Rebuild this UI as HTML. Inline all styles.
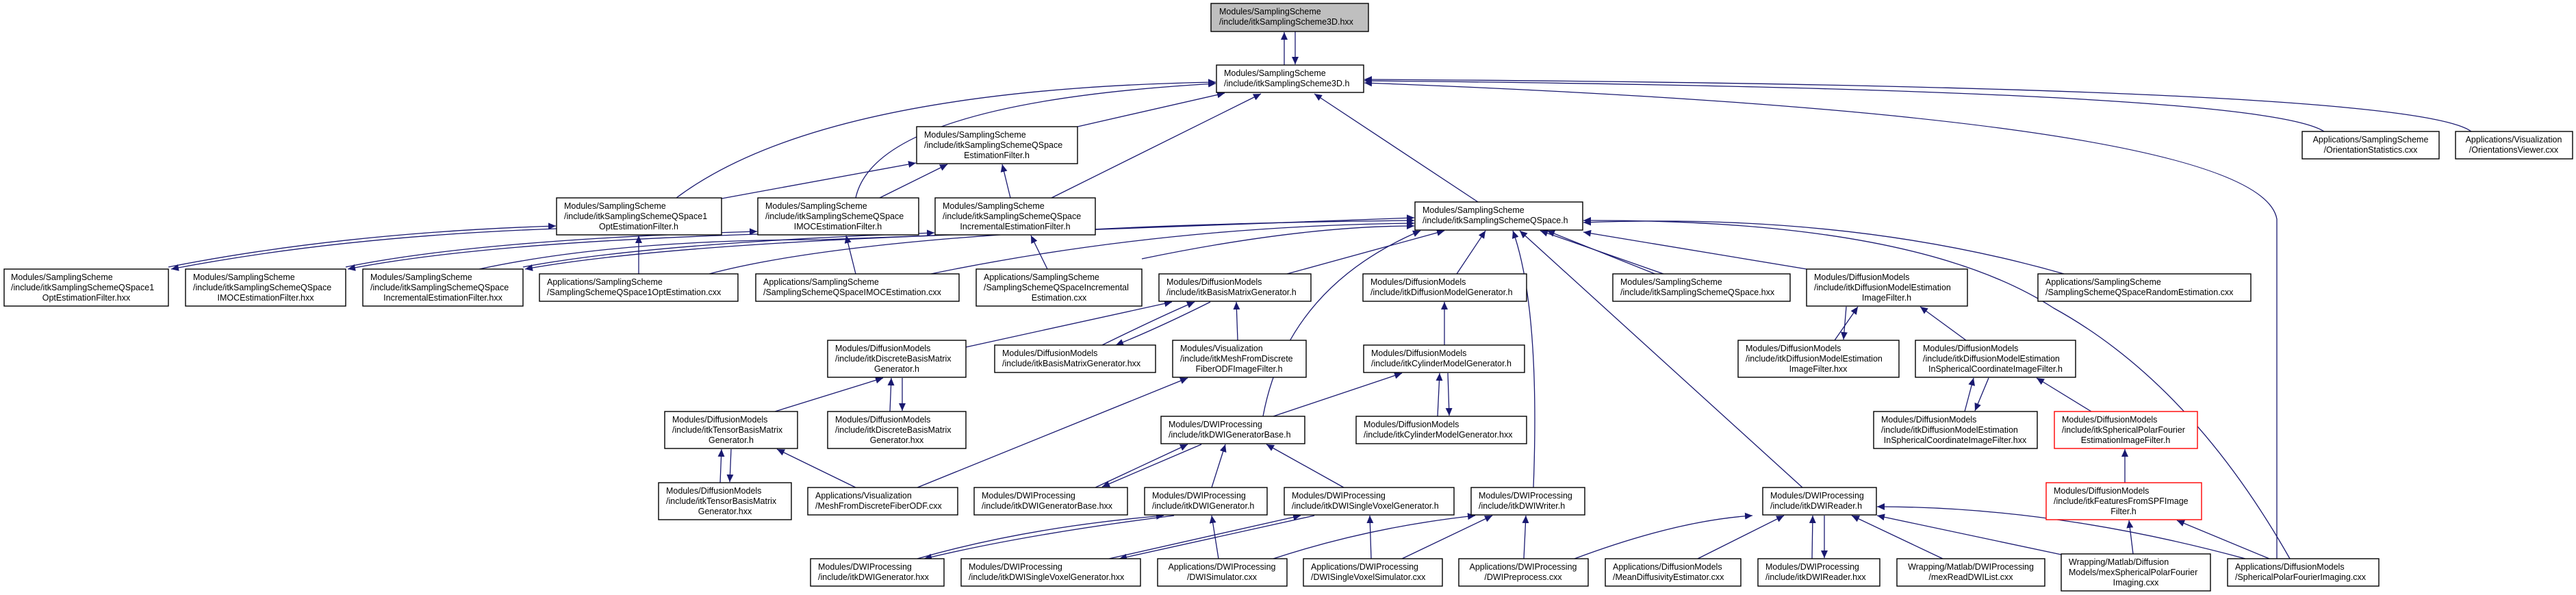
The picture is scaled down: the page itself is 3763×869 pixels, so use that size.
<!DOCTYPE html>
<html><head><meta charset="utf-8"><style>
html,body{margin:0;padding:0;background:#fff;}
svg{display:block;}
text{font-family:"Liberation Sans",Arial,sans-serif;font-size:12.5px;fill:#000;}
.n{fill:#fff;stroke:#000;stroke-width:1.4;}
.g{fill:#bfbfbf;stroke:#000;stroke-width:1.4;}
.r{fill:#fff;stroke:#ff0000;stroke-width:1.4;}
.e{fill:none;stroke:#191970;stroke-width:1.3;}
</style></head><body>
<svg width="3763" height="869" viewBox="0 0 3763 869" xmlns="http://www.w3.org/2000/svg">
<defs><marker id="a" markerUnits="userSpaceOnUse" markerWidth="12" markerHeight="10" refX="11" refY="5" orient="auto"><path d="M0,0 L11,5 L0,10 z" fill="#191970"/></marker></defs>

<!-- edges -->
<g class="e" marker-end="url(#a)">
<path d="M1876,95 L1876,47"/>
<path d="M1892,46 L1892,94"/>
<path d="M1574,185 L1789,136"/>
<path d="M1536,289 L1842,137"/>
<path d="M2159,295 L1920,137"/>
<path d="M988,289 Q1200,130 1776,120"/>
<path d="M1250,289 Q1280,150 1776,122"/>
<path d="M3395,192 Q3300,130 1993,118"/>
<path d="M3610,192 Q3520,125 1993,116"/>
<path d="M3326,816 L3326,320 Q3300,170 1993,121"/>
<path d="M1054,290 L1338,238"/>
<path d="M1285,289 L1384,240"/>
<path d="M1476,289 L1464,240"/>
<path d="M246,390 Q500,340 812,330"/>
<path d="M813,334 Q500,345 250,393"/>
<path d="M933,400 L933,344"/>
<path d="M505,390 Q700,350 1106,338"/>
<path d="M1107,342 Q700,355 508,393"/>
<path d="M1250,400 L1236,344"/>
<path d="M764,390 Q950,355 1365,340"/>
<path d="M1366,344 Q950,360 767,393"/>
<path d="M1530,393 L1506,344"/>
<path d="M700,393 Q900,350 1200,350 Q1700,330 2066,318"/>
<path d="M1036,400 Q1300,330 2066,322"/>
<path d="M1360,400 Q1700,330 2066,326"/>
<path d="M1668,378 Q1900,330 2066,330"/>
<path d="M1880,400 L2110,337"/>
<path d="M2128,400 L2170,337"/>
<path d="M2430,400 L2250,337"/>
<path d="M2425,403 L2260,337"/>
<path d="M1845,608 Q1880,420 2075,337"/>
<path d="M2240,712 Q2250,450 2210,337"/>
<path d="M2633,712 Q2400,500 2220,337"/>
<path d="M2639,393 L2313,339"/>
<path d="M3015,400 Q2700,310 2313,325"/>
<path d="M3345,816 Q3200,560 3000,450 Q2800,320 2313,322"/>
<path d="M1411,507 L1712,441"/>
<path d="M1610,504 Q1700,460 1745,441"/>
<path d="M1768,441 Q1690,480 1630,504"/>
<path d="M1808,497 L1806,441"/>
<path d="M2110,504 L2110,441"/>
<path d="M2100,608 L2103,545"/>
<path d="M2115,545 L2117,607"/>
<path d="M1860,608 L2048,545"/>
<path d="M1340,712 L1735,552"/>
<path d="M1132,601 L1290,552"/>
<path d="M1300,601 L1302,552"/>
<path d="M1318,552 L1318,600"/>
<path d="M1052,705 L1054,656"/>
<path d="M1068,656 L1066,704"/>
<path d="M1250,712 L1135,656"/>
<path d="M1600,712 L1735,649"/>
<path d="M1755,649 L1610,711"/>
<path d="M1770,712 L1790,649"/>
<path d="M1963,712 L1850,649"/>
<path d="M1340,816 Q1500,770 1700,753"/>
<path d="M1715,753 Q1500,780 1350,816"/>
<path d="M1780,816 L1770,753"/>
<path d="M1620,816 L1900,753"/>
<path d="M1920,753 L1635,816"/>
<path d="M2003,816 L2001,753"/>
<path d="M1860,816 Q2000,770 2155,753"/>
<path d="M2048,816 L2180,753"/>
<path d="M2226,816 L2229,753"/>
<path d="M2300,816 Q2450,760 2560,753"/>
<path d="M2480,816 L2606,753"/>
<path d="M2647,816 L2648,753"/>
<path d="M2665,753 L2665,815"/>
<path d="M2838,816 L2705,753"/>
<path d="M3011,810 L2742,753"/>
<path d="M3280,816 Q3000,740 2742,740"/>
<path d="M2680,497 L2714,448"/>
<path d="M2697,448 L2693,496"/>
<path d="M2872,497 L2805,448"/>
<path d="M2870,601 L2883,552"/>
<path d="M2905,552 L2885,600"/>
<path d="M3055,601 L2975,552"/>
<path d="M3104,705 L3104,656"/>
<path d="M3116,809 L3110,760"/>
<path d="M3315,816 L3180,760"/>
</g>

<!-- nodes -->
<rect class="g" x="1769" y="5" width="230" height="41"/>
<text x="1781" y="21">Modules/SamplingScheme</text><text x="1781" y="36">/include/itkSamplingScheme3D.hxx</text>

<rect class="n" x="1777" y="95" width="215" height="40"/>
<text x="1788" y="111">Modules/SamplingScheme</text><text x="1788" y="126">/include/itkSamplingScheme3D.h</text>

<rect class="n" x="1339" y="185" width="235" height="54"/>
<text x="1350" y="201">Modules/SamplingScheme</text><text x="1350" y="216">/include/itkSamplingSchemeQSpace</text><text x="1456" y="231" text-anchor="middle">EstimationFilter.h</text>

<rect class="n" x="813" y="289" width="241" height="54"/>
<text x="824" y="305">Modules/SamplingScheme</text><text x="824" y="320">/include/itkSamplingSchemeQSpace1</text><text x="933" y="335" text-anchor="middle">OptEstimationFilter.h</text>

<rect class="n" x="1107" y="289" width="235" height="54"/>
<text x="1118" y="305">Modules/SamplingScheme</text><text x="1118" y="320">/include/itkSamplingSchemeQSpace</text><text x="1224" y="335" text-anchor="middle">IMOCEstimationFilter.h</text>

<rect class="n" x="1366" y="289" width="234" height="54"/>
<text x="1377" y="305">Modules/SamplingScheme</text><text x="1377" y="320">/include/itkSamplingSchemeQSpace</text><text x="1483" y="335" text-anchor="middle">IncrementalEstimationFilter.h</text>

<rect class="n" x="2067" y="295" width="245" height="41"/>
<text x="2078" y="311">Modules/SamplingScheme</text><text x="2078" y="326">/include/itkSamplingSchemeQSpace.h</text>

<rect class="n" x="3363" y="192" width="200" height="40"/>
<text x="3463" y="208" text-anchor="middle">Applications/SamplingScheme</text><text x="3463" y="223" text-anchor="middle">/OrientationStatistics.cxx</text>

<rect class="n" x="3587" y="192" width="171" height="40"/>
<text x="3672" y="208" text-anchor="middle">Applications/Visualization</text><text x="3672" y="223" text-anchor="middle">/OrientationsViewer.cxx</text>

<rect class="n" x="6" y="393" width="240" height="54"/>
<text x="16" y="409">Modules/SamplingScheme</text><text x="16" y="424">/include/itkSamplingSchemeQSpace1</text><text x="126" y="439" text-anchor="middle">OptEstimationFilter.hxx</text>

<rect class="n" x="271" y="393" width="234" height="54"/>
<text x="282" y="409">Modules/SamplingScheme</text><text x="282" y="424">/include/itkSamplingSchemeQSpace</text><text x="388" y="439" text-anchor="middle">IMOCEstimationFilter.hxx</text>

<rect class="n" x="530" y="393" width="234" height="54"/>
<text x="541" y="409">Modules/SamplingScheme</text><text x="541" y="424">/include/itkSamplingSchemeQSpace</text><text x="647" y="439" text-anchor="middle">IncrementalEstimationFilter.hxx</text>

<rect class="n" x="788" y="400" width="290" height="40"/>
<text x="799" y="416">Applications/SamplingScheme</text><text x="799" y="431">/SamplingSchemeQSpace1OptEstimation.cxx</text>

<rect class="n" x="1104" y="400" width="297" height="40"/>
<text x="1115" y="416">Applications/SamplingScheme</text><text x="1115" y="431">/SamplingSchemeQSpaceIMOCEstimation.cxx</text>

<rect class="n" x="1426" y="393" width="242" height="54"/>
<text x="1437" y="409">Applications/SamplingScheme</text><text x="1437" y="424">/SamplingSchemeQSpaceIncremental</text><text x="1547" y="439" text-anchor="middle">Estimation.cxx</text>

<rect class="n" x="1693" y="400" width="222" height="40"/>
<text x="1704" y="416">Modules/DiffusionModels</text><text x="1704" y="431">/include/itkBasisMatrixGenerator.h</text>

<rect class="n" x="1991" y="400" width="239" height="40"/>
<text x="2002" y="416">Modules/DiffusionModels</text><text x="2002" y="431">/include/itkDiffusionModelGenerator.h</text>

<rect class="n" x="2356" y="400" width="259" height="40"/>
<text x="2367" y="416">Modules/SamplingScheme</text><text x="2367" y="431">/include/itkSamplingSchemeQSpace.hxx</text>

<rect class="n" x="2639" y="393" width="235" height="54"/>
<text x="2650" y="409">Modules/DiffusionModels</text><text x="2650" y="424">/include/itkDiffusionModelEstimation</text><text x="2756" y="439" text-anchor="middle">ImageFilter.h</text>

<rect class="n" x="2977" y="400" width="311" height="40"/>
<text x="2988" y="416">Applications/SamplingScheme</text><text x="2988" y="431">/SamplingSchemeQSpaceRandomEstimation.cxx</text>

<rect class="n" x="1209" y="497" width="202" height="54"/>
<text x="1220" y="513">Modules/DiffusionModels</text><text x="1220" y="528">/include/itkDiscreteBasisMatrix</text><text x="1310" y="543" text-anchor="middle">Generator.h</text>

<rect class="n" x="1453" y="504" width="235" height="40"/>
<text x="1464" y="520">Modules/DiffusionModels</text><text x="1464" y="535">/include/itkBasisMatrixGenerator.hxx</text>

<rect class="n" x="1713" y="497" width="195" height="54"/>
<text x="1724" y="513">Modules/Visualization</text><text x="1724" y="528">/include/itkMeshFromDiscrete</text><text x="1810" y="543" text-anchor="middle">FiberODFImageFilter.h</text>

<rect class="n" x="1992" y="504" width="235" height="40"/>
<text x="2003" y="520">Modules/DiffusionModels</text><text x="2003" y="535">/include/itkCylinderModelGenerator.h</text>

<rect class="n" x="2539" y="497" width="235" height="54"/>
<text x="2550" y="513">Modules/DiffusionModels</text><text x="2550" y="528">/include/itkDiffusionModelEstimation</text><text x="2656" y="543" text-anchor="middle">ImageFilter.hxx</text>

<rect class="n" x="2798" y="497" width="234" height="54"/>
<text x="2809" y="513">Modules/DiffusionModels</text><text x="2809" y="528">/include/itkDiffusionModelEstimation</text><text x="2915" y="543" text-anchor="middle">InSphericalCoordinateImageFilter.h</text>

<rect class="n" x="971" y="601" width="194" height="54"/>
<text x="982" y="617">Modules/DiffusionModels</text><text x="982" y="632">/include/itkTensorBasisMatrix</text><text x="1068" y="647" text-anchor="middle">Generator.h</text>

<rect class="n" x="1209" y="601" width="202" height="54"/>
<text x="1220" y="617">Modules/DiffusionModels</text><text x="1220" y="632">/include/itkDiscreteBasisMatrix</text><text x="1310" y="647" text-anchor="middle">Generator.hxx</text>

<rect class="n" x="1696" y="608" width="210" height="40"/>
<text x="1707" y="624">Modules/DWIProcessing</text><text x="1707" y="639">/include/itkDWIGeneratorBase.h</text>

<rect class="n" x="1981" y="608" width="249" height="40"/>
<text x="1992" y="624">Modules/DiffusionModels</text><text x="1992" y="639">/include/itkCylinderModelGenerator.hxx</text>

<rect class="n" x="2737" y="601" width="239" height="54"/>
<text x="2748" y="617">Modules/DiffusionModels</text><text x="2748" y="632">/include/itkDiffusionModelEstimation</text><text x="2856" y="647" text-anchor="middle">InSphericalCoordinateImageFilter.hxx</text>

<rect class="r" x="3001" y="601" width="209" height="54"/>
<text x="3012" y="617">Modules/DiffusionModels</text><text x="3012" y="632">/include/itkSphericalPolarFourier</text><text x="3105" y="647" text-anchor="middle">EstimationImageFilter.h</text>

<rect class="n" x="962" y="705" width="194" height="54"/>
<text x="973" y="721">Modules/DiffusionModels</text><text x="973" y="736">/include/itkTensorBasisMatrix</text><text x="1059" y="751" text-anchor="middle">Generator.hxx</text>

<rect class="n" x="1180" y="712" width="219" height="40"/>
<text x="1191" y="728">Applications/Visualization</text><text x="1191" y="743">/MeshFromDiscreteFiberODF.cxx</text>

<rect class="n" x="1423" y="712" width="224" height="40"/>
<text x="1434" y="728">Modules/DWIProcessing</text><text x="1434" y="743">/include/itkDWIGeneratorBase.hxx</text>

<rect class="n" x="1672" y="712" width="179" height="40"/>
<text x="1683" y="728">Modules/DWIProcessing</text><text x="1683" y="743">/include/itkDWIGenerator.h</text>

<rect class="n" x="1876" y="712" width="248" height="40"/>
<text x="1887" y="728">Modules/DWIProcessing</text><text x="1887" y="743">/include/itkDWISingleVoxelGenerator.h</text>

<rect class="n" x="2149" y="712" width="166" height="40"/>
<text x="2160" y="728">Modules/DWIProcessing</text><text x="2160" y="743">/include/itkDWIWriter.h</text>

<rect class="n" x="2575" y="712" width="166" height="40"/>
<text x="2586" y="728">Modules/DWIProcessing</text><text x="2586" y="743">/include/itkDWIReader.h</text>

<rect class="r" x="2989" y="705" width="227" height="54"/>
<text x="3000" y="721">Modules/DiffusionModels</text><text x="3000" y="736">/include/itkFeaturesFromSPFImage</text><text x="3102" y="751" text-anchor="middle">Filter.h</text>

<rect class="n" x="1184" y="816" width="195" height="40"/>
<text x="1195" y="832">Modules/DWIProcessing</text><text x="1195" y="847">/include/itkDWIGenerator.hxx</text>

<rect class="n" x="1404" y="816" width="262" height="40"/>
<text x="1415" y="832">Modules/DWIProcessing</text><text x="1415" y="847">/include/itkDWISingleVoxelGenerator.hxx</text>

<rect class="n" x="1691" y="816" width="189" height="40"/>
<text x="1785" y="832" text-anchor="middle">Applications/DWIProcessing</text><text x="1785" y="847" text-anchor="middle">/DWISimulator.cxx</text>

<rect class="n" x="1904" y="816" width="203" height="40"/>
<text x="1915" y="832">Applications/DWIProcessing</text><text x="1915" y="847">/DWISingleVoxelSimulator.cxx</text>

<rect class="n" x="2131" y="816" width="189" height="40"/>
<text x="2225" y="832" text-anchor="middle">Applications/DWIProcessing</text><text x="2225" y="847" text-anchor="middle">/DWIPreprocess.cxx</text>

<rect class="n" x="2345" y="816" width="198" height="40"/>
<text x="2356" y="832">Applications/DiffusionModels</text><text x="2356" y="847">/MeanDiffusivityEstimator.cxx</text>

<rect class="n" x="2568" y="816" width="178" height="40"/>
<text x="2579" y="832">Modules/DWIProcessing</text><text x="2579" y="847">/include/itkDWIReader.hxx</text>

<rect class="n" x="2771" y="816" width="216" height="40"/>
<text x="2879" y="832" text-anchor="middle">Wrapping/Matlab/DWIProcessing</text><text x="2879" y="847" text-anchor="middle">/mexReadDWIList.cxx</text>

<rect class="n" x="3011" y="809" width="218" height="54"/>
<text x="3022" y="825">Wrapping/Matlab/Diffusion</text><text x="3022" y="840">Models/mexSphericalPolarFourier</text><text x="3120" y="855" text-anchor="middle">Imaging.cxx</text>

<rect class="n" x="3254" y="816" width="221" height="40"/>
<text x="3265" y="832">Applications/DiffusionModels</text><text x="3265" y="847">/SphericalPolarFourierImaging.cxx</text>
</svg>
</body></html>
